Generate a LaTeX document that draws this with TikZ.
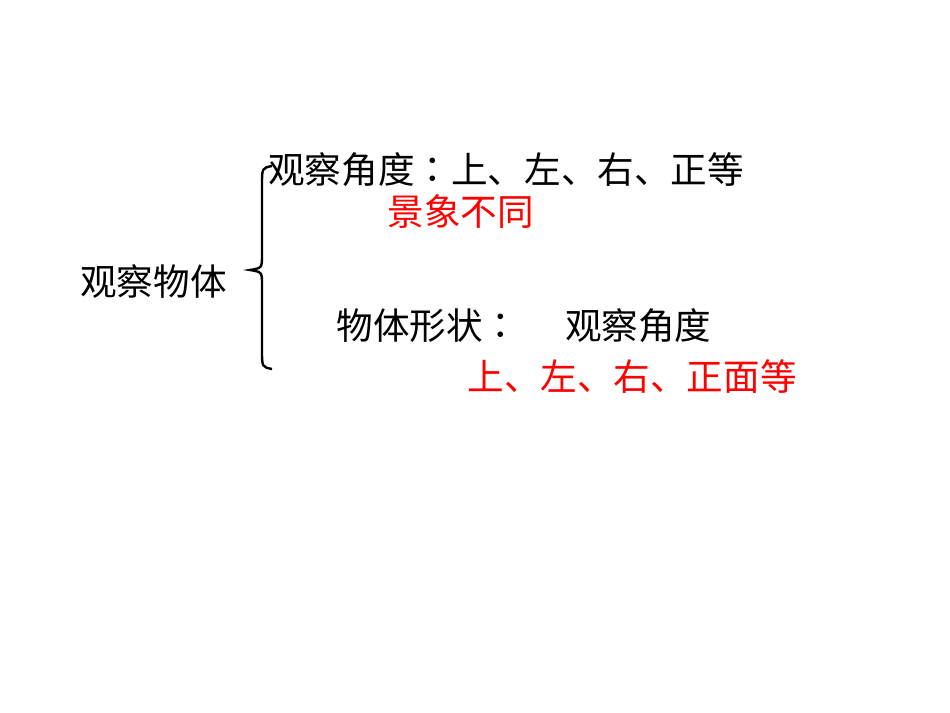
\documentclass[tikz,border=0pt]{standalone}
\usepackage{fontspec}
\setmainfont{Noto Sans CJK SC}
\newfontfamily\tcfont{Noto Sans CJK TC}
\usepackage{xcolor}
\usepackage{tikz}
\usetikzlibrary{positioning}

\newcommand{\midcolon}{{\tcfont ：}}

\begin{document}
\begin{tikzpicture}[x=0.5pt, y=-0.5pt,
  every node/.style={inner sep=0pt, anchor=west, font=\fontsize{18.3}{20}\selectfont},
  redtext/.style={text=red}]
  \useasboundingbox (0,0) rectangle (950,713);

  \node (root) at (80,282) {观察物体};
  \node (angle) at (268,170) {观察角度\midcolon 上、左、右、正等};
  \node[redtext] (scene) at (387,212) {景象不同};
  \node (shape) at (336,326) {物体形状\midcolon\hspace{1.25em}观察角度};
  \node[redtext] (sides) at (467,377) {上、左、右、正面等};

  % brace
  \coordinate (btop) at (272,166);
  \coordinate (btip) at (250,270);
  \coordinate (bbot) at (272,369);
  \draw[line width=1.2pt] (btop) .. controls (262,168) .. (262,185) -- (262,255)
    .. controls (262,268) .. (btip) .. controls (262,272) .. (262,285) -- (262,350)
    .. controls (262,367) .. (bbot);
\end{tikzpicture}
\end{document}
